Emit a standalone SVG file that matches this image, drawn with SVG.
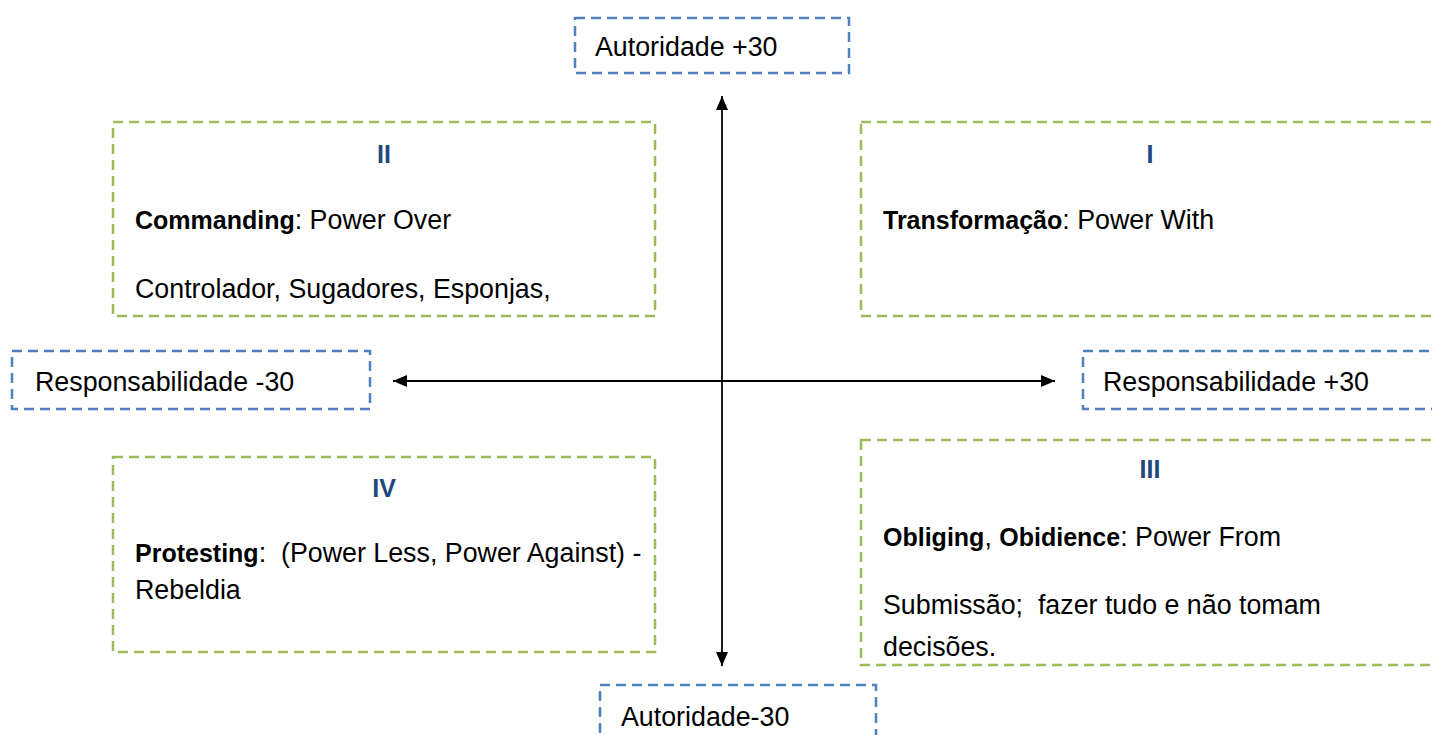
<svg xmlns="http://www.w3.org/2000/svg" width="1432" height="735" viewBox="0 0 1432 735">
<defs>
<marker id="ah" viewBox="0 0 14 12" refX="14" refY="6" markerWidth="14" markerHeight="12" markerUnits="userSpaceOnUse" orient="auto-start-reverse">
<path d="M0,0 L14,6 L0,12 Z" fill="#000"/>
</marker>
</defs>
<style>
.blue{fill:#fff;stroke:#4f81bd;stroke-width:2.5;stroke-dasharray:10 6}
.green{fill:#fff;stroke:#9bbb59;stroke-width:2.5;stroke-dasharray:10 6}
text{font-family:"Liberation Sans",Arial,sans-serif;font-size:26.8px;fill:#000}
.b{font-weight:bold;font-size:25px}
.num{font-weight:bold;font-size:25px;fill:#1f497d;text-anchor:middle}
.conn{stroke:#000;stroke-width:1.8;fill:none}
</style>
<rect width="1432" height="735" fill="#fff"/>
<g id="auth-plus">
<rect class="blue" x="575" y="18" width="274" height="55"/>
<text x="595" y="56">Autoridade +30</text>
</g>
<g id="quad-II">
<rect class="green" x="113" y="122" width="542" height="194"/>
<text class="num" x="384" y="163">II</text>
<text x="135" y="229"><tspan class="b">Commanding</tspan>: Power Over</text>
<text x="135" y="298">Controlador, Sugadores, Esponjas,</text>
</g>
<g id="quad-I">
<rect class="green" x="861" y="122" width="580" height="194"/>
<text class="num" x="1150" y="163">I</text>
<text x="883" y="229"><tspan class="b">Transformação</tspan>: Power With</text>
</g>
<g id="resp-minus">
<rect class="blue" x="12" y="351" width="358" height="58"/>
<text x="35" y="391">Responsabilidade -30</text>
</g>
<g id="resp-plus">
<rect class="blue" x="1083" y="351" width="358" height="58"/>
<text x="1103" y="391">Responsabilidade +30</text>
</g>
<g id="quad-IV">
<rect class="green" x="113" y="457" width="542" height="195"/>
<text class="num" x="384" y="497">IV</text>
<text x="135" y="562" xml:space="preserve"><tspan class="b">Protesting</tspan>:  (Power Less, Power Against) -</text>
<text x="135" y="599">Rebeldia</text>
</g>
<g id="quad-III">
<rect class="green" x="861" y="440" width="580" height="225"/>
<text class="num" x="1150" y="478">III</text>
<text x="883" y="546"><tspan class="b">Obliging</tspan>, <tspan class="b">Obidience</tspan>: Power From</text>
<text x="883" y="614" xml:space="preserve">Submissão;  fazer tudo e não tomam</text>
<text x="883" y="656">decisões.</text>
</g>
<g id="auth-minus">
<rect class="blue" x="600" y="685" width="276" height="60"/>
<text x="621" y="726">Autoridade-30</text>
</g>
<g id="connectors">
<line class="conn" x1="722" y1="666" x2="722" y2="96" marker-start="url(#ah)" marker-end="url(#ah)"/>
<line class="conn" x1="393" y1="381" x2="1055" y2="381" marker-start="url(#ah)" marker-end="url(#ah)"/>
</g>
</svg>
